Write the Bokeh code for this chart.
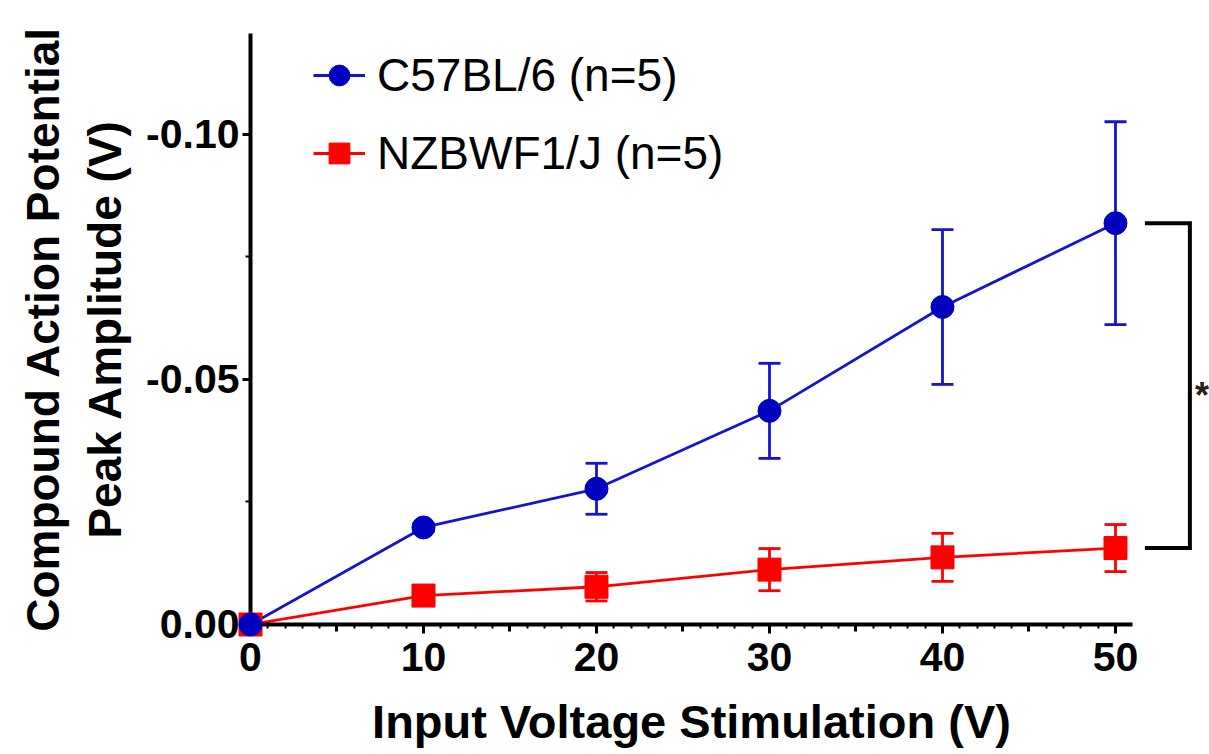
from bokeh.plotting import figure
from bokeh.models import (Range1d, LinearAxis, FixedTicker, NumeralTickFormatter,
                          Whisker, TeeHead, ColumnDataSource, Legend, LegendItem)
from bokeh.core.properties import value
from bokeh.embed import file_html
from bokeh.resources import INLINE

# ---------------- data ----------------
voltage = [0, 10, 20, 30, 40, 50]
c57_mean = [0.0, -0.0198, -0.0277, -0.0436, -0.0648, -0.0819]
c57_sem = [0.0, 0.0008, 0.0052, 0.0097, 0.0158, 0.0207]
nzb_mean = [0.0, -0.0059, -0.0077, -0.0112, -0.0137, -0.0156]
nzb_sem = [0.0, 0.0015, 0.0029, 0.0043, 0.0049, 0.0048]
series_labels = ["C57BL/6 (n=5)", "NZBWF1/J (n=5)"]
x_ticks = [0, 10, 20, 30, 40, 50]
x_mid_ticks = [5, 15, 25, 35, 45]
x_minor_ticks = [i for i in range(1, 51) if i % 5]
y_ticks = [0.0, -0.05, -0.10]
y_minor_ticks = [-0.025, -0.075]
x_title = "Input Voltage Stimulation (V)"
y_title = "Compound Action Potential\nPeak Amplitude (V)"
sig_mark = "*"

# ---------------- styling ----------------
BLUE = "#0000BF"
BLUE_LINE = "#1414D0"
RED = "#FF0000"
FONT = "Liberation Sans"

# frame covers the whole canvas; axes are pinned at x=0 / y=0
p = figure(width=1209, height=754, output_backend="svg", toolbar_location=None,
           x_range=Range1d(-14.451, 55.434), y_range=Range1d(0.026531, -0.127347),
           x_axis_location=None, y_axis_location=None,
           min_border_left=0, min_border_right=0, min_border_top=0, min_border_bottom=0)
p.outline_line_color = None
p.xgrid.visible = False
p.ygrid.visible = False
p.background_fill_color = "white"
p.border_fill_color = "white"

xaxis = LinearAxis(fixed_location=0, bounds=(0, 51),
                   ticker=FixedTicker(ticks=x_ticks, minor_ticks=x_minor_ticks),
                   axis_label=x_title)
xmid = LinearAxis(fixed_location=0, bounds=(0, 51), ticker=FixedTicker(ticks=x_mid_ticks))
yaxis = LinearAxis(fixed_location=0, bounds=(-0.1206, 0.0),
                   ticker=FixedTicker(ticks=y_ticks, minor_ticks=y_minor_ticks),
                   formatter=NumeralTickFormatter(format="0.00"),
                   axis_label=y_title)

for ax in (xaxis, yaxis, xmid):
    ax.axis_line_color = "black"
    ax.axis_line_width = 4
    ax.major_tick_line_color = "black"
    ax.major_tick_line_width = 3
    ax.major_tick_in = 0
    ax.minor_tick_line_color = "black"
    ax.minor_tick_line_width = 2
    ax.minor_tick_in = 0
    ax.minor_tick_out = 4
    ax.major_label_text_font = FONT
    ax.major_label_text_font_style = "bold"
    ax.major_label_text_color = "black"
    ax.axis_label_text_font = FONT
    ax.axis_label_text_font_style = "bold"
    ax.axis_label_text_font_size = "47px"
    ax.axis_label_text_color = "black"

xaxis.major_tick_out = 9
xaxis.major_label_text_font_size = "41px"
xaxis.major_label_standoff = 10
xaxis.axis_label_standoff = 20

xmid.major_tick_out = 7
xmid.major_label_text_font_size = "0px"
xmid.major_label_text_color = None
xmid.minor_tick_line_color = None
xmid.axis_line_color = None

yaxis.major_tick_out = 8
yaxis.major_label_text_font_size = "41px"
yaxis.major_label_standoff = 3
yaxis.minor_tick_out = 5
yaxis.axis_label_standoff = 12
yaxis.axis_label_text_font_size = "46px"

p.add_layout(xaxis, "below")
p.add_layout(xmid, "below")
p.add_layout(yaxis, "left")

# ---------------- series ----------------
src_n = ColumnDataSource(dict(x=voltage, y=nzb_mean,
                              lo=[m - s for m, s in zip(nzb_mean, nzb_sem)],
                              hi=[m + s for m, s in zip(nzb_mean, nzb_sem)]))
src_c = ColumnDataSource(dict(x=voltage, y=c57_mean,
                              lo=[m - s for m, s in zip(c57_mean, c57_sem)],
                              hi=[m + s for m, s in zip(c57_mean, c57_sem)]))

for src, col in ((src_n, RED), (src_c, BLUE_LINE)):
    w = Whisker(source=src, base="x", upper="hi", lower="lo",
                line_color=col, line_width=2.8,
                upper_head=TeeHead(size=22, line_color=col, line_width=2.8),
                lower_head=TeeHead(size=22, line_color=col, line_width=2.8))
    p.add_layout(w)

ln_n = p.line("x", "y", source=src_n, line_color=RED, line_width=2.8)
sc_n = p.scatter("x", "y", source=src_n, marker="square", size=23,
                 fill_color=RED, line_color=RED, level="overlay")
ln_c = p.line("x", "y", source=src_c, line_color=BLUE_LINE, line_width=2.8)
sc_c = p.scatter("x", "y", source=src_c, marker="circle", size=23,
                 fill_color=BLUE, line_color=BLUE, level="overlay")

# significance bracket between the last means
bx0 = voltage[-1] + 1.7
bx1 = voltage[-1] + 4.3
p.line([bx0, bx1, bx1, bx0], [c57_mean[-1], c57_mean[-1], nzb_mean[-1], nzb_mean[-1]],
       line_color="black", line_width=4, line_join="miter")
p.text(x=[voltage[-1] + 4.6], y=[(c57_mean[-1] + nzb_mean[-1]) / 2], text=[sig_mark],
       text_font=value(FONT), text_font_size="36px", text_font_style="bold",
       text_color="#2a2010", text_align="left", text_baseline="middle", y_offset=10)

# ---------------- legend ----------------
legend = Legend(items=[LegendItem(label=series_labels[0], renderers=[ln_c, sc_c]),
                       LegendItem(label=series_labels[1], renderers=[ln_n, sc_n])],
                location=(313, 572), glyph_width=52, glyph_height=58, label_height=58,
                spacing=20, padding=0, margin=0, label_standoff=12,
                border_line_color=None, background_fill_alpha=0,
                label_text_font=FONT, label_text_font_size="46px",
                label_text_color="black")
p.add_layout(legend)

open("out.html", "w").write(file_html(p, INLINE))
